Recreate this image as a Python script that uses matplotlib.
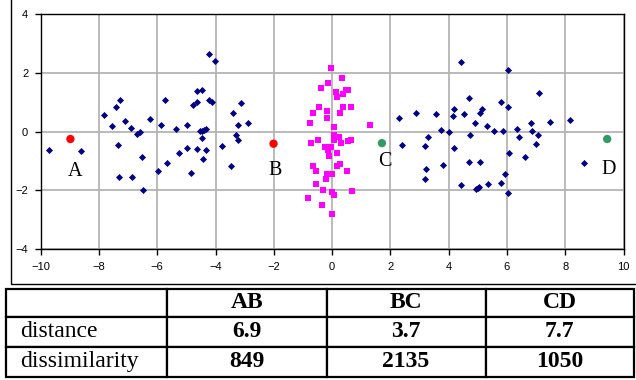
import matplotlib
matplotlib.use("Agg")
import matplotlib.pyplot as plt
from matplotlib.patches import Rectangle

# ---- data ----
blue_x = [-9.71, -8.60, -7.82, -7.56, -7.27, -7.43, -7.12, -7.35, -7.31, -6.86, -6.89, -6.69,
          -6.58, -6.53, -6.50, -6.24, -5.98, -5.87, -5.75, -5.65, -5.34, -5.27, -4.99, -4.97,
          -4.84, -4.77, -4.65, -4.65, -4.47, -4.62, -4.53, -4.47, -4.41, -4.33, -4.47, -4.42,
          -4.34, -4.24, -4.22, -4.11, -4.01, -3.13, -3.41, -3.23, -2.89, -3.31, -3.23, -3.78,
          -3.46,
          2.28, 2.87, 2.41, 4.42, 6.03, 7.09, 4.71, 5.80, 6.03, 4.19, 5.13, 3.58, 4.14, 4.54,
          5.07, 8.16, 7.48, 4.92, 6.83, 5.31, 3.75, 4.02, 5.55, 5.88, 6.34, 6.85, 4.74, 7.06,
          3.29, 6.42, 3.19, 7.00, 4.19, 6.08, 6.62, 4.71, 5.09, 3.80, 8.64, 3.21, 3.19, 5.95,
          4.42, 5.35, 5.80, 4.93, 5.05, 5.00, 6.03]
blue_y = [-0.63, -0.66, 0.57, 0.20, 1.07, 0.83, 0.36, -0.45, -1.53, -1.53, 0.11, -0.08,
          -0.02, -0.86, -2.00, 0.42, -1.33, 0.24, 1.07, -1.07, 0.08, -0.74, -0.56, 0.24,
          -1.41, 0.91, 1.00, 1.39, 1.42, -0.58, 0.03, 0.03, 0.07, 0.09, -0.23, -0.92,
          -0.61, 2.65, 1.07, 1.01, 2.39, 0.99, 0.65, 0.24, 0.28, -0.11, -0.29, -0.48,
          -1.17,
          0.48, 0.65, -0.45, 2.37, 2.11, 1.32, 1.13, 1.01, 0.83, 0.76, 0.76, 0.60, 0.54, 0.60,
          0.62, 0.40, 0.34, 0.28, 0.28, 0.19, 0.06, -0.02, 0.03, 0.03, 0.08, 0.03, -0.10, -0.11,
          -0.19, -0.19, -0.50, -0.41, -0.56, -0.74, -0.86, -1.04, -1.02, -1.15, -1.07, -1.27, -1.61, -1.45,
          -1.81, -1.78, -1.76, -1.95, -1.89, -1.92, -2.10]

pink_x = [-0.03, 0.35, -0.15, -0.38, 0.13, 0.48, 0.56, 0.37, 0.17, -0.45, -0.16, -0.65,
          0.38, 0.64, 0.27, -0.17, -0.75, 0.08, 1.29, 0.05, 0.23, 0.07, -0.47, -0.73,
          0.64, 0.53, 0.29, -0.24, -0.03, -0.15, 0.17, -0.11, -0.66, 0.27, 0.16, -0.54,
          0.51, -0.16, -0.02, -0.22, -0.54, -0.30, 0.00, 0.08, 0.68, -0.82, -0.34, -0.01]
pink_y = [2.15, 1.83, 1.66, 1.49, 1.34, 1.41, 1.42, 1.27, 1.18, 0.84, 0.70, 0.62,
          0.84, 0.85, 0.62, 0.45, 0.28, 0.17, 0.24, -0.12, -0.19, -0.27, -0.29, -0.39,
          -0.27, -0.33, -0.39, -0.51, -0.51, -0.61, -0.74, -0.82, -1.17, -1.10, -1.16, -1.35,
          -1.33, -1.45, -1.45, -1.61, -1.78, -1.97, -2.05, -2.14, -2.02, -2.24, -2.49, -2.80]

key_names = ["A", "B", "C", "D"]
key_x = [-8.98, -2.01, 1.71, 9.44]
key_y = [-0.25, -0.41, -0.39, -0.25]
key_colors = ["#FF0000", "#FF0000", "#339966", "#339966"]
label_x = [-8.83, -1.94, 1.81, 9.50]
label_y = [-1.37, -1.32, -1.01, -1.29]

x_ticks = [-10, -8, -6, -4, -2, 0, 2, 4, 6, 8, 10]
y_ticks = [-4, -2, 0, 2, 4]

col_labels = ["", "AB", "BC", "CD"]
row_labels = ["distance", "dissimilarity"]
distance = ["6.9", "3.7", "7.7"]
dissimilarity = ["849", "2135", "1050"]

# ---- figure ----
W, H = 636, 380
fig = plt.figure(figsize=(W / 100, H / 100), dpi=100)
fig.patch.set_facecolor("white")

# outer chart frame
fig.patches.append(Rectangle((11 / W, 1 - 284 / H), 1.0, 1.0, transform=fig.transFigure,
                             fill=False, edgecolor="black", linewidth=1.0))

ax = fig.add_axes([40.7 / W, 1 - 249.3 / H, (623.5 - 40.7) / W, (249.3 - 14) / H])
ax.set_xlim(-10, 10)
ax.set_ylim(-4, 4)
ax.set_xticks(x_ticks)
ax.set_yticks(y_ticks)
ax.grid(True, color="#b4b4b4", linewidth=1.3)
ax.set_axisbelow(True)
for s in ax.spines.values():
    s.set_color("black")
    s.set_linewidth(1.0)
ax.tick_params(direction="out", length=4, width=1.0, labelsize=8, pad=5)
for lbl in ax.get_xticklabels() + ax.get_yticklabels():
    lbl.set_fontfamily(["Liberation Sans", "DejaVu Sans"])

ax.scatter(blue_x, blue_y, marker="D", s=3.6 ** 2, color="#000080", linewidths=0, zorder=3)
ax.scatter(pink_x, pink_y, marker="s", s=4.4 ** 2, color="#FF00FF", linewidths=0, zorder=3)
ax.scatter(key_x, key_y, marker="o", s=6.0 ** 2, c=key_colors, linewidths=0, zorder=4)
for n, lx, ly in zip(key_names, label_x, label_y):
    ax.text(lx, ly, n, ha="center", va="center", fontsize=14.5,
            family=["Liberation Serif", "DejaVu Serif"], zorder=5)

# ---- table ----
tax = fig.add_axes([6 / W, 1 - 377 / H, 628 / W, 88 / H])
tax.axis("off")
cell_text = [col_labels,
             [row_labels[0]] + distance,
             [row_labels[1]] + dissimilarity]
colw = [160.7 / 628, 160 / 628, 158.8 / 628, 148.5 / 628]
tbl = tax.table(cellText=cell_text, colWidths=colw, cellLoc="center", bbox=[0, 0, 1, 1])
tbl.auto_set_font_size(False)
tbl.set_fontsize(17)
row_h = [28 / 88, 29.5 / 88, 30.5 / 88]
for (r, c), cell in tbl.get_celld().items():
    cell.set_linewidth(1.6)
    cell.set_edgecolor("black")
    cell.set_height(row_h[r])
    t = cell.get_text()
    t.set_fontfamily(["Liberation Serif", "DejaVu Serif"])
    if c == 0:
        cell._loc = "left"
        t.set_ha("left")
        cell.PAD = 0.09
    else:
        t.set_fontweight("bold")

fig.savefig("out.png", dpi=100)
